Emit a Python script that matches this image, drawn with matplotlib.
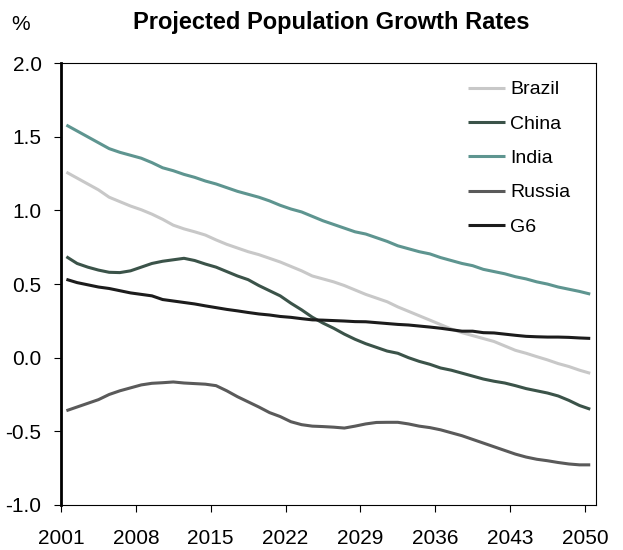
import matplotlib
matplotlib.use("Agg")
import matplotlib.pyplot as plt

plt.rcParams["font.family"] = ["Liberation Sans", "DejaVu Sans"]

# ── Data ─────────────────────────────────────────────────────────────────────
years = list(range(2001, 2051))

brazil = [1.26, 1.22, 1.18, 1.14, 1.09, 1.06, 1.03, 1.005, 0.975, 0.94,
          0.90, 0.875, 0.855, 0.833, 0.80, 0.77, 0.745, 0.72, 0.70, 0.675,
          0.65, 0.62, 0.59, 0.555, 0.535, 0.515, 0.49, 0.46, 0.43, 0.405,
          0.38, 0.345, 0.315, 0.285, 0.255, 0.225, 0.195, 0.17, 0.15, 0.13,
          0.11, 0.08, 0.05, 0.03, 0.007, -0.015, -0.04, -0.06, -0.085, -0.106]

china = [0.686, 0.64, 0.615, 0.595, 0.58, 0.578, 0.59, 0.615, 0.64, 0.655,
         0.665, 0.675, 0.66, 0.636, 0.615, 0.585, 0.555, 0.53, 0.49, 0.455,
         0.42, 0.37, 0.325, 0.275, 0.235, 0.20, 0.16, 0.125, 0.095, 0.07,
         0.045, 0.03, 0.0, -0.025, -0.045, -0.07, -0.085, -0.105, -0.125, -0.145,
         -0.16, -0.172, -0.19, -0.21, -0.225, -0.24, -0.26, -0.29, -0.325, -0.35]

india = [1.58, 1.54, 1.50, 1.46, 1.42, 1.395, 1.375, 1.355, 1.325, 1.29,
         1.27, 1.245, 1.225, 1.20, 1.18, 1.155, 1.13, 1.11, 1.09, 1.065,
         1.035, 1.01, 0.99, 0.96, 0.93, 0.905, 0.88, 0.855, 0.84, 0.815,
         0.79, 0.76, 0.74, 0.72, 0.705, 0.68, 0.66, 0.64, 0.625, 0.60,
         0.585, 0.57, 0.55, 0.535, 0.515, 0.50, 0.48, 0.465, 0.45, 0.432]

russia = [-0.36, -0.335, -0.31, -0.285, -0.25, -0.225, -0.205, -0.185, -0.174, -0.17,
          -0.165, -0.172, -0.176, -0.18, -0.19, -0.225, -0.265, -0.30, -0.335, -0.373,
          -0.40, -0.435, -0.455, -0.465, -0.468, -0.472, -0.478, -0.465, -0.45, -0.44,
          -0.439, -0.439, -0.45, -0.465, -0.475, -0.49, -0.51, -0.53, -0.555, -0.58,
          -0.605, -0.63, -0.655, -0.675, -0.69, -0.70, -0.712, -0.722, -0.728, -0.728]

g6 = [0.532, 0.51, 0.495, 0.48, 0.47, 0.455, 0.44, 0.43, 0.42, 0.395,
      0.385, 0.375, 0.365, 0.352, 0.34, 0.328, 0.318, 0.307, 0.297, 0.29,
      0.28, 0.274, 0.265, 0.257, 0.255, 0.252, 0.249, 0.245, 0.244, 0.238,
      0.232, 0.226, 0.222, 0.215, 0.208, 0.20, 0.19, 0.18, 0.18, 0.17,
      0.168, 0.16, 0.152, 0.145, 0.142, 0.14, 0.14, 0.138, 0.134, 0.131]

series = [("Brazil", brazil, "#c8c8c8"),
          ("China",  china,  "#3b5349"),
          ("India",  india,  "#5e9590"),
          ("Russia", russia, "#5a5a5a"),
          ("G6",     g6,     "#1c1c1c")]

tick_years = [2001, 2008, 2015, 2022, 2029, 2036, 2043, 2050]
y_ticks = [-1.0, -0.5, 0.0, 0.5, 1.0, 1.5, 2.0]

# ── Plot ──────────────────────────────────────────────────────────────────────
fig = plt.figure(figsize=(6.23, 5.5), dpi=100, facecolor="white")
ax = fig.add_axes([0.098, 0.082, 0.858, 0.803])

for name, vals, col in series:
    ax.plot(years, vals, color=col, lw=2.2, label=name, solid_capstyle="butt")

# category axis: ticks sit on the boundaries between years
ax.set_xlim(years[0] - 0.5, years[-1] + 0.5)
ax.set_xticks([y - 0.5 for y in tick_years])
ax.set_xticklabels([str(y) for y in tick_years])
ax.set_ylim(-1.0, 2.0)
ax.set_yticks(y_ticks)
ax.set_yticklabels([f"{v:.1f}" for v in y_ticks])

ax.tick_params(axis="both", direction="out", length=5, width=0.8,
               labelsize=15, colors="black")
ax.tick_params(axis="y", pad=9)
ax.tick_params(axis="x", pad=12)

ax.spines["left"].set_linewidth(2.0)
for s in ("top", "right", "bottom"):
    ax.spines[s].set_linewidth(0.8)

leg = ax.legend(loc="upper right", frameon=False, fontsize=14,
                handlelength=1.9, handletextpad=0.28, labelspacing=0.86,
                bbox_to_anchor=(0.985, 1.0))

fig.text(0.532, 0.96, "Projected Population Growth Rates", ha="center",
         va="center", fontsize=17, fontweight="bold")
fig.text(0.033, 0.955, "%", ha="center", va="center", fontsize=15)

plt.savefig("out.png", dpi=100, facecolor="white")
plt.close()
